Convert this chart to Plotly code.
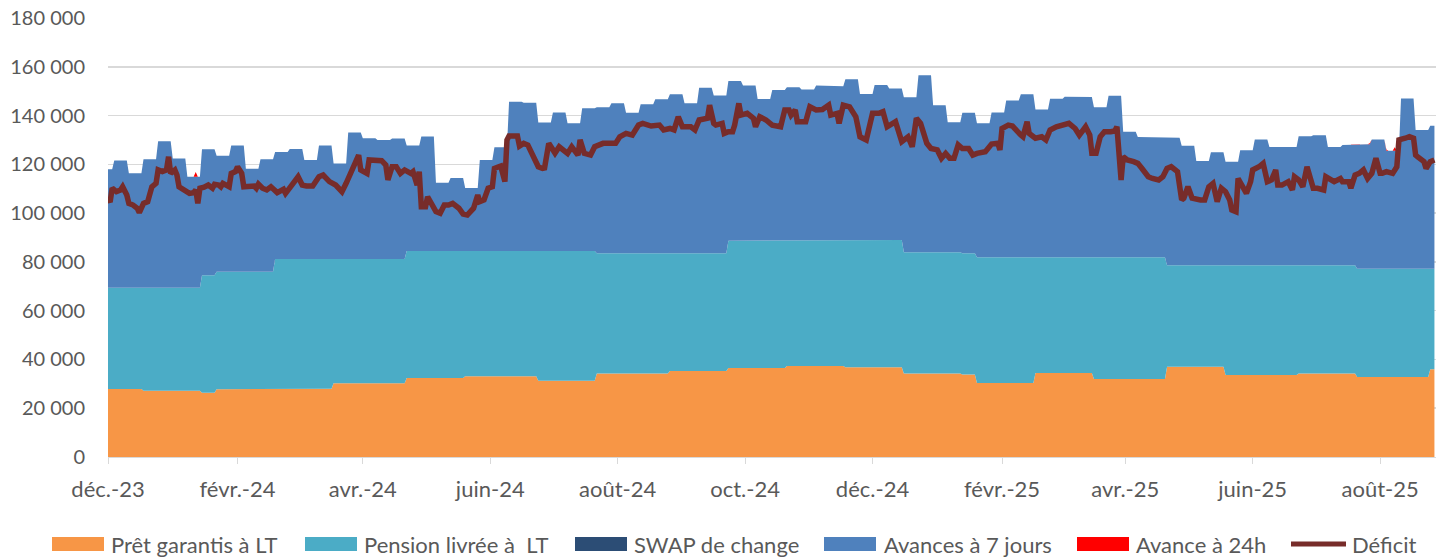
import numpy as np
import pandas as pd
import plotly.graph_objects as go

# ---------------- data ----------------
start_date = "2023-12-01"
end_date = "2025-08-27"
week_anchor = "2023-11-27"   # Monday of the first (partial) week

# weekly operations: run lengths (in weeks) and values (millions)
run_weeks = [3, 4, 1, 4, 4, 5, 4, 5, 4, 5, 4, 4, 4, 4, 4, 1, 4, 4, 5, 4, 5, 4, 5, 1]
pret_runs = [27900, 27200, 26300, 27800, 28000, 30200, 32400, 33100, 31300, 34200, 35300, 36500,
             37300, 36800, 34200, 33800, 30300, 34400, 32000, 37000, 33600, 34200, 32800, 36000]
pension_runs = [41500, 42200, 48200, 48200, 53200, 51000, 52100, 51400, 53200, 49300, 48200, 52200,
                51700, 52200, 49800, 49700, 51600, 47500, 49900, 41600, 45000, 44400, 44400, 41200]

avances_weekly = [
    48600, 52200, 46900, 52700, 60100, 53000, 45500, 51700, 47500, 51700,
    42200, 46100, 43900, 45100, 40600, 46500, 39100, 51900, 49500, 48800,
    49400, 43200, 46900, 28000, 29900, 25800, 37300, 42500, 61200, 60800,
    52700, 56800, 52300, 58500, 59900, 61500, 57700, 61100, 63200, 65200,
    61500, 67900, 64700, 65500, 63600, 58100, 61800, 62600, 61700, 63300,
    63000, 65900, 59800, 63500, 62100, 63500, 72500, 60200, 53300, 57600,
    54900, 59400, 64300, 66800, 60600, 65000, 65800, 65700, 61500, 66200,
    51500, 49300, 49000, 52300, 49000, 42800, 46400, 42500, 47200, 51600,
    48500, 48500, 52900, 53300, 48500, 49300, 51000, 53000, 48400, 69800,
    56900, 58600]
swap_weekly = [0] * 92

avance24_days = [42, 604, 612, 616]
avance24_values = [2000, 400, 500, 1400]

deficit_days = [
    0, 1, 2, 4, 6, 7, 9, 10, 12, 14, 15, 17, 19, 21, 23, 24, 26, 28, 29, 30,
    32, 33, 34, 37, 39, 41, 42, 43, 44, 46, 48, 50, 51, 53, 54, 55, 58, 59, 61, 62,
    64, 65, 68, 70, 71, 72, 74, 76, 78, 80, 81, 84, 85, 88, 91, 93, 95, 98, 101, 103,
    106, 109, 110, 112, 114, 116, 117, 119, 120, 121, 124, 125, 128, 131, 133, 134, 136, 138, 140, 142,
    145, 146, 148, 149, 150, 152, 153, 155, 157, 159, 161, 163, 165, 168, 170, 172, 175, 177, 178, 180,
    182, 184, 185, 187, 188, 190, 191, 192, 196, 197, 199, 201, 203, 204, 206, 208, 209, 211, 214, 216,
    220, 222, 225, 226, 228, 231, 233, 237, 243, 245, 248, 251, 254, 256, 260, 264, 266, 269, 271, 273,
    275, 279, 281, 283, 287, 288, 290, 291, 294, 295, 297, 299, 300, 302, 303, 306, 309, 310, 312, 315,
    318, 322, 324, 326, 327, 329, 330, 334, 336, 339, 342, 345, 346, 349, 350, 352, 355, 358, 360, 363,
    366, 369, 371, 373, 376, 377, 380, 383, 385, 387, 389, 392, 394, 397, 399, 401, 403, 405, 407, 409,
    412, 414, 416, 420, 423, 426, 427, 428, 431, 433, 437, 438, 440, 441, 444, 447, 449, 451, 454, 457,
    460, 463, 465, 468, 470, 471, 473, 475, 477, 480, 482, 483, 485, 486, 488, 491, 493, 495, 498, 500,
    503, 505, 507, 509, 512, 514, 515, 517, 519, 523, 525, 527, 529, 531, 533, 535, 537, 538, 540, 541,
    543, 545, 547, 548, 551, 553, 555, 557, 559, 560, 562, 565, 567, 568, 570, 572, 574, 575, 577, 579,
    582, 583, 586, 587, 590, 591, 594, 595, 597, 599, 601, 603, 605, 607, 609, 610, 612, 615, 617, 618,
    621, 623, 625, 626, 627, 630, 631, 633, 635]
deficit_values = [
    106000, 104500, 110200, 108800, 109500, 110800, 107400, 104000, 103300, 102000,
    100200, 104000, 104700, 110800, 112200, 117700, 117000, 117700, 123100, 116300,
    117700, 115600, 110800, 108800, 108100, 108400, 109500, 104000, 110200, 110600,
    111500, 110200, 111800, 111500, 110800, 112200, 110800, 116300, 117000, 119000,
    116300, 110800, 110800, 111100, 110200, 111900, 110200, 109500, 110800, 109500,
    108400, 109800, 108100, 111500, 114900, 111500, 111100, 111100, 114900, 115600,
    112900, 111500, 110800, 108800, 112200, 116300, 117000, 121800, 123800, 117700,
    116300, 121800, 121500, 121500, 119700, 113600, 119000, 119000, 116300, 117700,
    116300, 117000, 111500, 117000, 102600, 102600, 106700, 104000, 100600, 99900,
    103300, 103300, 104000, 102000, 99600, 99200, 102000, 107400, 104700, 105400,
    110200, 110800, 118300, 119000, 119300, 112900, 130000, 131600, 131600, 127500,
    128600, 127900, 124500, 122500, 119000, 118300, 118500, 128600, 124600, 127200,
    124500, 127200, 123800, 130000, 124500, 123800, 127200, 128600, 128600, 131300,
    132700, 132000, 136100, 136800, 135700, 136100, 134100, 134700, 134100, 139500,
    135400, 135400, 134100, 138200, 138900, 144300, 136800, 136100, 136800, 132700,
    133400, 133400, 136100, 145000, 140200, 140900, 138900, 135400, 139500, 138200,
    136100, 135400, 142300, 142300, 140200, 142300, 137500, 137500, 143600, 142300,
    142500, 144300, 140200, 140900, 136800, 144300, 143600, 139500, 131300, 130000,
    140900, 140900, 141600, 135400, 136800, 137500, 129300, 131300, 127200, 138900,
    136800, 128600, 126500, 125900, 122500, 124500, 122500, 122500, 128000, 126500,
    126500, 123800, 124500, 125200, 128300, 128600, 125900, 134700, 136100, 135700,
    132000, 131300, 137500, 132700, 130700, 131300, 130000, 134100, 135400, 136100,
    136800, 134700, 132000, 135400, 132000, 124500, 124500, 131300, 133400, 133400,
    133700, 135400, 113600, 123100, 121800, 121100, 120400, 118300, 114900, 114200,
    113600, 114900, 118300, 119000, 117000, 105400, 106100, 110800, 106100, 105400,
    105400, 110800, 112200, 104700, 110200, 108800, 105400, 101300, 100600, 114200,
    110800, 108100, 112900, 117700, 119000, 120400, 112900, 113600, 117700, 111500,
    111500, 112900, 109500, 114900, 113600, 110800, 119000, 116300, 110200, 110200,
    109500, 114900, 113600, 112900, 114200, 112900, 112900, 110200, 115600, 116300,
    117700, 114200, 116300, 122500, 116300, 116300, 117000, 116300, 119000, 130000,
    130700, 131300, 130700, 123800, 123100, 121100, 118300, 121100, 121800]

tick_dates = ["2023-12-01", "2024-02-01", "2024-04-01", "2024-06-01", "2024-08-01", "2024-10-01",
              "2024-12-01", "2025-02-01", "2025-04-01", "2025-06-01", "2025-08-01"]
tick_labels = ["déc.-23", "févr.-24", "avr.-24", "juin-24", "août-24", "oct.-24",
               "déc.-24", "févr.-25", "avr.-25", "juin-25", "août-25"]

series_names = ["Prêt garantis à LT", "Pension livrée à  LT", "SWAP de change",
                "Avances à 7 jours", "Avance à 24h"]
series_colors = ["#F79646", "#4BACC6", "#2C4D75", "#4F81BD", "#FF0000"]
deficit_name = "Déficit"
deficit_color = "#772C2A"

# ---------------- build daily series ----------------
days = pd.date_range(start_date, end_date, freq="D")
widx = ((days - pd.Timestamp(week_anchor)).days // 7).to_numpy()

pret_weekly = np.repeat(pret_runs, run_weeks)
pension_weekly = np.repeat(pension_runs, run_weeks)

pret_daily = pret_weekly[widx]
pension_daily = pension_weekly[widx]
swap_daily = np.asarray(swap_weekly)[widx]
avances_daily = np.asarray(avances_weekly)[widx]
avance24_daily = np.zeros(len(days))
avance24_daily[np.asarray(avance24_days)] = avance24_values

deficit_dates = pd.Timestamp(start_date) + pd.to_timedelta(deficit_days, unit="D")

fig = go.Figure()
for name, vals, col in zip(series_names,
                           [pret_daily, pension_daily, swap_daily, avances_daily, avance24_daily],
                           series_colors):
    fig.add_trace(go.Scatter(x=days, y=vals, name=name, mode="lines", stackgroup="stock",
                             line=dict(width=0, color=col), fillcolor=col, showlegend=False))

fig.add_trace(go.Scatter(x=deficit_dates, y=deficit_values, name=deficit_name, mode="lines",
                         line=dict(color=deficit_color, width=5.5), showlegend=False))

font_family = "Lato, 'Open Sans', sans-serif"
grey = "#595959"

# the page body margin is removed (post_script below), so the figure fills the window
W, H = 1448, 558
PLOT_L, PLOT_R, PLOT_T, PLOT_B = 108, 1436, 18, 457
ML, MR, MT, MB = PLOT_L, W - PLOT_R, PLOT_T, H - PLOT_B
PW, PH = PLOT_R - PLOT_L, PLOT_B - PLOT_T


def px_x(px):
    return (px - PLOT_L) / PW


def px_y(py):
    return (PLOT_B - py) / PH


# ---------------- legend (drawn below the plot, Excel style) ----------------
legend_swatch_left = [52, 305, 575, 824, 1077]
legend_text_left = [109, 362, 632, 882, 1134]
legend_line_left, legend_line_right, legend_line_text = 1291, 1346, 1350
legend_y, legend_half = 544, 7

shapes = []
annotations = []
for name, col, sx, tx in zip(series_names, series_colors, legend_swatch_left, legend_text_left):
    shapes.append(dict(type="rect", xref="paper", yref="paper",
                       x0=px_x(sx), x1=px_x(sx + 52),
                       y0=px_y(legend_y + legend_half), y1=px_y(legend_y - legend_half),
                       fillcolor=col, line=dict(width=0)))
    annotations.append(dict(xref="paper", yref="paper", x=px_x(tx), y=px_y(legend_y),
                            xanchor="left", yanchor="middle", text=name, showarrow=False,
                            font=dict(size=22, color=grey, family=font_family)))
shapes.append(dict(type="line", xref="paper", yref="paper",
                   x0=px_x(legend_line_left), x1=px_x(legend_line_right),
                   y0=px_y(legend_y), y1=px_y(legend_y),
                   line=dict(color=deficit_color, width=5)))
annotations.append(dict(xref="paper", yref="paper", x=px_x(legend_line_text), y=px_y(legend_y),
                        xanchor="left", yanchor="middle", text=deficit_name, showarrow=False,
                        font=dict(size=22, color=grey, family=font_family)))

fig.update_layout(
    width=W, height=H,
    margin=dict(l=ML, r=MR, t=MT, b=MB, autoexpand=False),
    paper_bgcolor="white", plot_bgcolor="white",
    separators=", ",
    font=dict(family=font_family, size=20, color=grey),
    showlegend=False,
    hovermode=False,
    shapes=shapes,
    annotations=annotations,
)
fig.update_xaxes(
    type="date", range=["2023-12-01", "2025-08-27 18:00"],
    tickvals=tick_dates, ticktext=tick_labels,
    ticks="outside", ticklen=6, tickcolor="#D9D9D9", tickwidth=1,
    showline=True, linecolor="#D9D9D9", linewidth=1,
    showgrid=False, zeroline=False,
    tickfont=dict(size=22, color=grey), ticklabelstandoff=7,
)
fig.update_yaxes(
    range=[0, 180000], dtick=20000, tick0=0,
    tickformat=",d",
    showgrid=True, gridcolor="#D9D9D9", gridwidth=1.5,
    zeroline=False, showline=False,
    tickfont=dict(size=20, color=grey),
    ticks="", ticklabelstandoff=22, ticklabeloverflow="allow",
)

fig.write_html("out.html",
               config={"displayModeBar": False, "staticPlot": True},
               post_script="document.body.style.margin='0';document.body.style.overflow='hidden';")
